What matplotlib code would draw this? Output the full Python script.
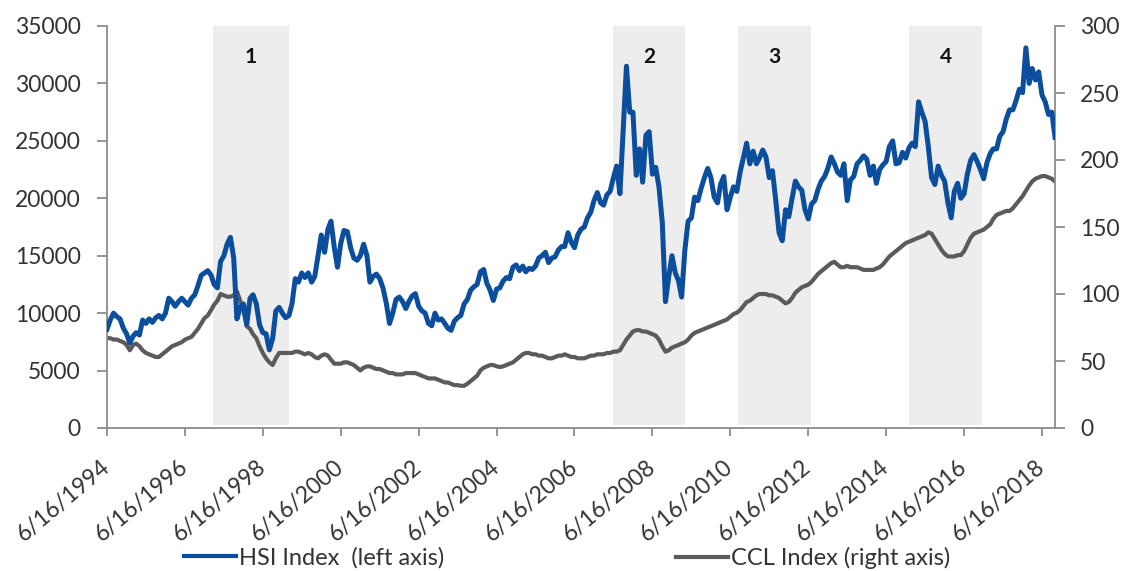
import matplotlib
matplotlib.use("Agg")
import matplotlib.pyplot as plt
import pandas as pd
from matplotlib.lines import Line2D

plt.rcParams['font.family'] = ['Lato', 'DejaVu Sans']

# ---------------- data ----------------
start_date = "1994-06-16"

# HSI Index, monthly (Jun 1994 - Oct 2018)
hsi = [
    8600, 9400, 10000, 9700, 9500, 8700, 8200,                                   # 1994
    7400, 8000, 8300, 8100, 9400, 9100, 9500, 9200, 9600, 9800, 9500, 10000,      # 1995
    11300, 11000, 10600, 11000, 11300, 11000, 10700, 11300, 11600, 12400, 13300, 13500,  # 1996
    13700, 13300, 12500, 12200, 14500, 15000, 16000, 16600, 14800, 9500, 10500, 10800,   # 1997
    9000, 11300, 11600, 10800, 9000, 8300, 8200, 6800, 7800, 10200, 10500, 10000,        # 1998
    9600, 9800, 10800, 13000, 12700, 13500, 13100, 13500, 12700, 13200, 15000, 16800,    # 1999
    15300, 17300, 18000, 15700, 14000, 16100, 17200, 17100, 15700, 14800, 14600, 15000,  # 2000
    16000, 15000, 12700, 13200, 13400, 13000, 12200, 10900, 9100, 10000, 11200, 11400,   # 2001
    11000, 10400, 11000, 11500, 11700, 10600, 10200, 10000, 9100, 8900, 10000, 9400,     # 2002
    9500, 9100, 8700, 8500, 9300, 9600, 9800, 10800, 11200, 12000, 12300, 12500,         # 2003
    13600, 13800, 12600, 12000, 11100, 12100, 12200, 12800, 13100, 13000, 14000, 14200,  # 2004
    13700, 14100, 13600, 13900, 13800, 14100, 14800, 15000, 15300, 14400, 14800, 14900,  # 2005
    15500, 15800, 15800, 17000, 16200, 15700, 16800, 17300, 17500, 18300, 18800, 19800,  # 2006
    20500, 19600, 19400, 20300, 20600, 21800, 22800, 20400, 26000, 31500, 27500, 27500,  # 2007
    22000, 24300, 21400, 25500, 25800, 22100, 22700, 21000, 17900, 11000, 13200, 15000,  # 2008
    13500, 12800, 11400, 15500, 18000, 18300, 20100, 19800, 20900, 21800, 22600, 21800,  # 2009
    20100, 19600, 21200, 21900, 19000, 20100, 21000, 20600, 22300, 23500, 24800, 23000,  # 2010
    24100, 23000, 23500, 24200, 23600, 21800, 22400, 19800, 17000, 16300, 19000, 18400,  # 2011
    20000, 21500, 21000, 20700, 19000, 18200, 19500, 19800, 20800, 21500, 21900, 22600,  # 2012
    23600, 23000, 22300, 22000, 23000, 19800, 21600, 21900, 23000, 23300, 23700, 23400,  # 2013
    22000, 22800, 21300, 22500, 22900, 23200, 24500, 25000, 23000, 23100, 24000, 23500,  # 2014
    24400, 24800, 24500, 28400, 27500, 26700, 24500, 21800, 21200, 22800, 22000, 21500,  # 2015
    19600, 18300, 20600, 21300, 20000, 20400, 22100, 23300, 23800, 23200, 22500, 21700,  # 2016
    23100, 23900, 24300, 24300, 25400, 25800, 26900, 27700, 27700, 28500, 29500, 29200,  # 2017
    33100, 30000, 31300, 30300, 31000, 29000, 28400, 27300, 27500, 25300,               # 2018
]

# CCL Index, monthly (Jun 1994 - Oct 2018)
ccl = [
    67, 67, 66, 66, 65, 64, 62,                                  # 1994
    58, 62, 63, 61, 58, 56, 55, 54, 53, 53, 55, 57,              # 1995
    59, 61, 62, 63, 64, 66, 67, 68, 71, 74, 78, 82,              # 1996
    84, 88, 92, 95, 100, 99, 98, 98, 99, 102, 95, 88,            # 1997
    76, 74, 70, 67, 61, 56, 52, 49, 47, 52, 56, 56,              # 1998
    56, 56, 56, 57, 57, 56, 55, 56, 55, 53, 52, 54,              # 1999
    55, 54, 51, 48, 48, 48, 49, 49, 48, 47, 45, 43,              # 2000
    45, 46, 46, 45, 44, 44, 43, 42, 41, 41, 40, 40,              # 2001
    40, 41, 41, 41, 41, 40, 39, 38, 37, 37, 37, 36,              # 2002
    35, 34, 34, 33, 32, 32, 31.5, 31.5, 33, 35, 37, 39,          # 2003
    43, 45, 46, 47, 47, 46, 45.5, 46, 47, 48, 49, 51,            # 2004
    53, 55, 56, 56, 55, 55, 54, 54, 53, 52, 52, 53,              # 2005
    54, 54, 55, 54, 53, 53, 52, 52, 52, 53, 54, 54,              # 2006
    55, 55, 55, 56, 56, 57, 57, 58, 62, 66, 69, 72,              # 2007
    73, 73, 72, 72, 71, 70, 69, 66, 61, 57, 58, 60,              # 2008
    61, 62, 63, 64, 66, 69, 71, 72, 73, 74, 75, 76,              # 2009
    77, 78, 79, 80, 81, 83, 85, 86, 88, 91, 94, 95,              # 2010
    97, 99, 100, 100, 100, 99, 99, 98, 97, 95, 93, 94,           # 2011
    97, 101, 103, 105, 106, 107, 109, 112, 115, 117, 119, 121,   # 2012
    123, 124, 122, 120, 120, 121, 120, 120, 120, 119, 118, 118,  # 2013
    118, 118, 119, 120, 122, 125, 128, 130, 132, 134, 136, 138,  # 2014
    139, 140, 141, 142, 143, 144, 146, 145, 141, 137, 133, 130,  # 2015
    128, 128, 128, 129, 129, 132, 137, 142, 145, 146, 147, 148,  # 2016
    150, 152, 156, 159, 160, 161, 162, 162, 164, 167, 170, 173,  # 2017
    177, 181, 184, 186, 187, 188, 188, 187, 186, 184,            # 2018
]

# shaded periods
period_labels = ["1", "2", "3", "4"]
period_starts = ["1997-03-05", "2007-06-13", "2010-08-27", "2015-01-20"]
period_ends = ["1999-02-16", "2009-04-20", "2012-07-12", "2016-12-01"]

tick_years = list(range(1994, 2019, 2))
left_ticks = [0, 5000, 10000, 15000, 20000, 25000, 30000, 35000]
right_ticks = [0, 50, 100, 150, 200, 250, 300]

# ---------------- figure ----------------
n = min(len(hsi), len(ccl))
dates = pd.date_range(start_date, periods=n, freq=pd.DateOffset(months=1))

W, H = 1124, 571
fig = plt.figure(figsize=(W / 100, H / 100), dpi=100)
x0, x1, y0, y1 = 107, 1055, 26, 428
ax = fig.add_axes([x0 / W, 1 - y1 / H, (x1 - x0) / W, (y1 - y0) / H])
ax2 = ax.twinx()
ax.set_zorder(ax2.get_zorder() + 1)
ax.patch.set_visible(False)

axis_col = "#8C8C8C"
text_col = "#333333"

for s, e in zip(period_starts, period_ends):
    ax2.axvspan(pd.Timestamp(s), pd.Timestamp(e), ymin=0.008, ymax=1.0,
                color="#EDEDED", lw=0, zorder=0)

ax2.plot(dates, ccl[:n], color="#5B5B5B", lw=3.0, solid_joinstyle="round", zorder=2)
ax.plot(dates, hsi[:n], color="#0B4E9E", lw=3.6, solid_joinstyle="round", zorder=3)

for lab, s, e in zip(period_labels, period_starts, period_ends):
    mid = pd.Timestamp(s) + (pd.Timestamp(e) - pd.Timestamp(s)) / 2
    ax.text(mid, 32300, lab, ha="center", va="center", fontsize=15,
            fontweight="bold", color="#111111")

ax.set_xlim(dates[0], dates[-1])
ax.set_ylim(0, 35000)
ax2.set_ylim(0, 300)
ax.set_yticks(left_ticks)
ax.set_yticklabels([str(v) for v in left_ticks])
ax2.set_yticks(right_ticks)
ax2.set_yticklabels([str(v) for v in right_ticks])

tick_dates = [pd.Timestamp(f"{y}-06-16") for y in tick_years]
ax.set_xticks(tick_dates)
ax.set_xticklabels([f"{d.month}/{d.day}/{d.year}" for d in tick_dates],
                   rotation=40, ha="right", rotation_mode="anchor", va="center")

for a in (ax, ax2):
    a.spines["top"].set_visible(False)
    for sp in ("left", "right", "bottom"):
        a.spines[sp].set_color(axis_col)
        a.spines[sp].set_linewidth(1.3)
ax.spines["right"].set_visible(False)
ax2.spines["left"].set_visible(False)
ax2.spines["bottom"].set_visible(False)

ax.tick_params(axis="y", direction="out", length=7, width=1.3, color=axis_col,
               labelsize=16.5, labelcolor=text_col, pad=12)
ax2.tick_params(axis="y", direction="out", length=7, width=1.3, color=axis_col,
                labelsize=16.5, labelcolor=text_col, pad=11)
ax.tick_params(axis="x", direction="out", length=6, width=1.3, color=axis_col,
               labelsize=16.5, labelcolor=text_col, pad=20)

# legends
h1 = Line2D([], [], color="#0B4E9E", lw=3)
h2 = Line2D([], [], color="#5B5B5B", lw=3)
fig.legend([h1], ["HSI Index  (left axis)"], loc="center left",
           bbox_to_anchor=(184 / W, 1 - 558 / H), frameon=False,
           fontsize=17, handlelength=2.2, handletextpad=0.15,
           borderpad=0, borderaxespad=0, labelcolor=text_col)
fig.legend([h2], ["CCL Index (right axis)"], loc="center left",
           bbox_to_anchor=(676 / W, 1 - 558 / H), frameon=False,
           fontsize=17, handlelength=2.2, handletextpad=0.15,
           borderpad=0, borderaxespad=0, labelcolor=text_col)

fig.savefig("out.png", dpi=100)
